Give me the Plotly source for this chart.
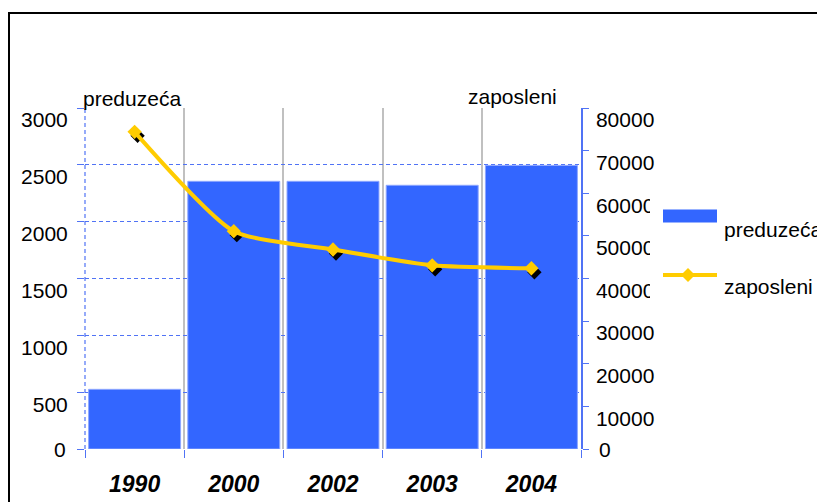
import plotly.graph_objects as go

# ---- data ----
years = ["1990", "2000", "2002", "2003", "2004"]
preduzeca = [525, 2355, 2355, 2320, 2495]
zaposleni = [74400, 51100, 46800, 43100, 42400]
left_ticks = [0, 500, 1000, 1500, 2000, 2500, 3000]
right_ticks = [0, 10000, 20000, 30000, 40000, 50000, 60000, 70000, 80000]
left_title = "preduzeća"
right_title = "zaposleni"

# ---- layout geometry (page pixels; the page body adds an 8px offset) ----
OFF = 8
W, Hh = 825 - OFF, 502 - OFF
L, R, T, B = 85, 581, 108, 449          # plot area in page pixels
PW, PH = R - L, B - T

def px(x):
    return (x - L) / PW

def py(y):
    return (B - y) / PH

FONT = "Liberation Sans, Arial, sans-serif"
BLUE_GRID = "#5073f5"
BAR = "#3366ff"
GOLD = "#ffcc00"

# shadow offset (px) converted into axis-range shifts
cat_px = PW / len(years)
dx = 3 / cat_px
dy = 4 * 80000 / PH

fig = go.Figure()
fig.add_trace(go.Bar(
    x=years, y=preduzeca, name="preduzeća",
    marker=dict(color=BAR, line=dict(color="#8ea7ff", width=1)),
    xaxis="x", yaxis="y", showlegend=False, hoverinfo="skip",
))
fig.add_trace(go.Scatter(
    x=years, y=zaposleni, mode="markers", name="shadow",
    marker=dict(symbol="diamond", size=11, color="black"),
    xaxis="x3", yaxis="y3", showlegend=False, hoverinfo="skip",
))
fig.add_trace(go.Scatter(
    x=years, y=zaposleni, mode="lines+markers", name="zaposleni",
    line=dict(color=GOLD, width=4, shape="spline", smoothing=0.6),
    marker=dict(symbol="diamond", size=11, color=GOLD),
    xaxis="x4", yaxis="y4", showlegend=False,
))

tickfont = dict(family=FONT, size=21, color="black")

fig.update_layout(
    width=W, height=Hh,
    margin=dict(l=L - OFF, r=825 - R, t=T - OFF, b=502 - B),
    paper_bgcolor="white", plot_bgcolor="white",
    bargap=0.073,
    showlegend=False,
    xaxis=dict(
        type="category", categoryarray=years, range=[-0.5, 4.5],
        tickson="boundaries", showgrid=True, gridcolor="#c0c0c0", gridwidth=2,
        ticks="outside", ticklen=8, tickcolor=BLUE_GRID,
        showline=False, zeroline=False, ticklabelstandoff=19, automargin=False,
        tickfont=dict(family=FONT, size=23, color="black", weight="bold", style="italic"),
    ),
    yaxis=dict(
        range=[0, 3000], tickvals=left_ticks,
        ticktext=[""] + [str(v) for v in left_ticks[1:]],
        showgrid=True, gridcolor=BLUE_GRID, griddash="4px,3px", gridwidth=1,
        ticks="outside", ticklen=7, tickcolor=BLUE_GRID,
        zeroline=False, showline=False, automargin=False,
        ticklabelshift=12, ticklabelstandoff=5,
        tickfont=tickfont,
    ),
    yaxis2=dict(
        range=[0, 80000], tickvals=right_ticks,
        ticktext=[""] + [str(v) for v in right_ticks[1:]],
        overlaying="y", side="right", anchor="x",
        showgrid=False, zeroline=False, automargin=False,
        showline=True, linecolor=BLUE_GRID, linewidth=1.5,
        ticks="outside", ticklen=6, tickcolor=BLUE_GRID,
        ticklabelshift=12, ticklabelstandoff=3,
        tickfont=tickfont,
    ),
    xaxis3=dict(
        type="category", categoryarray=years, overlaying="x", automargin=False,
        range=[-0.5 - dx, 4.5 - dx], visible=False, anchor="y3",
    ),
    yaxis3=dict(
        range=[dy, 80000 + dy], overlaying="y", visible=False, anchor="x3",
        automargin=False,
    ),
    xaxis4=dict(
        type="category", categoryarray=years, overlaying="x", automargin=False,
        range=[-0.5, 4.5], visible=False, anchor="y4",
    ),
    yaxis4=dict(
        range=[0, 80000], overlaying="y", visible=False, anchor="x4",
        automargin=False,
    ),
)

shapes = [
    # left dashed frame line
    dict(type="line", xref="paper", yref="paper", x0=0, x1=0, y0=0, y1=1,
         line=dict(color=BLUE_GRID, width=1.2, dash="4px,3px"), layer="above"),
    # outer border
    dict(type="rect", xref="paper", yref="paper",
         x0=px(9), x1=px(840), y0=py(13), y1=py(520),
         line=dict(color="black", width=2), fillcolor="rgba(0,0,0,0)", layer="above"),
    # white area behind legend (clips right tick labels)
    dict(type="rect", xref="paper", yref="paper",
         x0=px(650), x1=px(822), y0=py(182), y1=py(312),
         line=dict(width=0), fillcolor="white", layer="above"),
    # legend symbols
    dict(type="rect", xref="paper", yref="paper",
         x0=px(663), x1=px(717), y0=py(222.5), y1=py(209.5),
         line=dict(width=0), fillcolor=BAR, layer="above"),
    dict(type="line", xref="paper", yref="paper",
         x0=px(663), x1=px(717), y0=py(275), y1=py(275),
         line=dict(color=GOLD, width=4), layer="above"),
    dict(type="path", xref="paper", yref="paper",
         path=f"M {px(688)},{py(268)} L {px(695)},{py(275)} L {px(688)},{py(282)} L {px(681)},{py(275)} Z",
         line=dict(width=0), fillcolor=GOLD, layer="above"),
]
fig.update_layout(shapes=shapes)

ann_font = dict(family=FONT, size=21, color="black")
annotations = [
    dict(text=left_title, xref="paper", yref="paper", x=px(81), y=py(98),
         xanchor="left", yanchor="middle", showarrow=False, font=ann_font),
    dict(text=right_title, xref="paper", yref="paper", x=px(559), y=py(96),
         xanchor="right", yanchor="middle", showarrow=False, font=ann_font),
    dict(text=str(left_ticks[0]), xref="paper", yref="y", x=px(68), y=left_ticks[0],
         xanchor="right", yanchor="middle", showarrow=False, font=ann_font),
    dict(text=str(right_ticks[0]), xref="paper", yref="y2", x=px(597), y=right_ticks[0],
         xanchor="left", yanchor="middle", showarrow=False, font=ann_font),
    dict(text="preduzeća", xref="paper", yref="paper", x=px(722), y=py(229),
         xanchor="left", yanchor="middle", showarrow=False, font=ann_font),
    dict(text="zaposleni", xref="paper", yref="paper", x=px(722), y=py(286),
         xanchor="left", yanchor="middle", showarrow=False, font=ann_font),
]
fig.update_layout(annotations=annotations)

fig.write_html("out.html")
